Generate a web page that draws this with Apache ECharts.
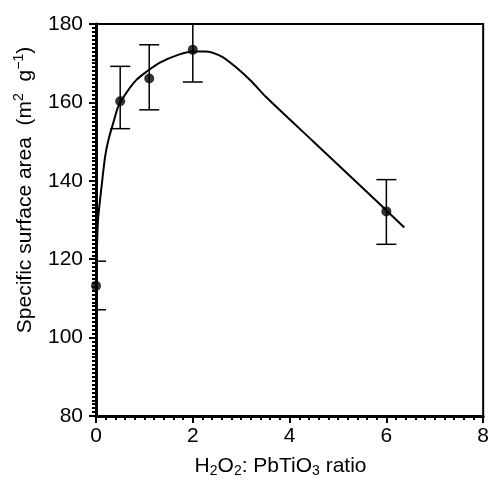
<!DOCTYPE html>
<html>
<head>
<meta charset="utf-8">
<script src="https://cdn.jsdelivr.net/npm/echarts@6/dist/echarts.min.js"></script>
<style>
  html, body { margin: 0; padding: 0; background: #fff; }
  #mChart { width: 492px; height: 483px; }
</style>
</head>
<body>
<div id="mChart"></div>
<script>
  // fitted curve
  var curveX = [0, 0.04, 0.11, 0.19, 0.26, 0.36, 0.46, 0.63, 0.84, 1.04, 1.31, 1.71, 2.02, 2.26, 2.6, 2.87, 3.21, 3.52, 4.5, 5.5, 6.37];
  var curveY = [113.4, 129.6, 138, 146.3, 150.6, 154.9, 159, 162.5, 165.8, 167.8, 170.1, 172.2, 173, 173, 171.7, 169.2, 165.4, 161.3, 149.9, 138.3, 128.1];

  // measured points with error bars
  var pointX = [0, 0.5, 1.1, 2, 6];
  var pointY = [113.2, 160.3, 166.1, 173.4, 132.2];
  var errLow = [107.1, 153.3, 158.1, 165.2, 123.8];
  var errHigh = [119.5, 169.2, 174.7, 180, 140.3];

  var xTicks = [0, 2, 4, 6, 8];
  var yTicks = [80, 100, 120, 140, 160, 180];

  var font = 'Liberation Sans';

  var myChart = echarts.init(document.getElementById('mChart'));

  var curveData = curveX.map(function (x, i) { return [x, curveY[i]]; });
  var pointData = pointX.map(function (x, i) { return [x, pointY[i]]; });
  var errData = pointX.map(function (x, i) { return [x, errLow[i], errHigh[i]]; });

  myChart.setOption({
    animation: false,
    grid: {
      left: 96, right: 4, top: 24, bottom: 64,
      show: true, borderColor: '#000', borderWidth: 2
    },
    xAxis: {
      type: 'value',
      min: xTicks[0], max: xTicks[xTicks.length - 1], interval: 2,
      axisLine: { lineStyle: { color: '#000', width: 3 } },
      axisTick: { length: 7, lineStyle: { color: '#000', width: 2 } },
      minorTick: { show: true, splitNumber: 10, length: 4, lineStyle: { color: '#000', width: 2 } },
      splitLine: { show: false },
      axisLabel: { color: '#000', fontSize: 21, fontFamily: font, margin: 10, showMaxLabel: true },
      name: '{t|H}{sub|2}{t|O}{sub|2}{t|: PbTiO}{sub|3}{t| ratio}',
      nameLocation: 'middle',
      nameGap: 38,
      nameTextStyle: {
        padding: [0, 18, 0, 0],
        rich: {
          t: { fontSize: 21, fontFamily: font, color: '#000', lineHeight: 24 },
          sub: { fontSize: 14, fontFamily: font, color: '#000', lineHeight: 14, verticalAlign: 'bottom' }
        }
      }
    },
    yAxis: {
      type: 'value',
      min: yTicks[0], max: yTicks[yTicks.length - 1], interval: 20,
      axisLine: { show: true, lineStyle: { color: '#000', width: 3 } },
      axisTick: { show: true, length: 7, lineStyle: { color: '#000', width: 2 } },
      minorTick: { show: true, splitNumber: 20, length: 4, lineStyle: { color: '#000', width: 2 } },
      splitLine: { show: false },
      axisLabel: { color: '#000', fontSize: 21, fontFamily: font, margin: 13 },
      name: '{t|Specific surface area  (m}{sup|2}{t|  g}{sup|\u22121}{t|)}',
      nameLocation: 'middle',
      nameRotate: 90,
      nameGap: 58,
      nameTextStyle: {
        padding: [0, 0, 0, 60],
        rich: {
          t: { fontSize: 21, fontFamily: font, color: '#000', lineHeight: 26 },
          sup: { fontSize: 14, fontFamily: font, color: '#000', lineHeight: 14, verticalAlign: 'top' }
        }
      }
    },
    series: [
      {
        type: 'line',
        data: curveData,
        showSymbol: false,
        smooth: 0.25,
        lineStyle: { color: '#000', width: 2 },
        z: 2
      },
      {
        type: 'custom',
        data: errData,
        clip: true,
        renderItem: function (params, api) {
          var x = api.value(0);
          var lo = api.coord([x, api.value(1)]);
          var hi = api.coord([x, api.value(2)]);
          var half = 10;
          var style = { stroke: '#000', lineWidth: 1.5 };
          return {
            type: 'group',
            children: [
              { type: 'line', shape: { x1: lo[0], y1: lo[1], x2: hi[0], y2: hi[1] }, style: style },
              { type: 'line', shape: { x1: lo[0] - half, y1: lo[1], x2: lo[0] + half, y2: lo[1] }, style: style },
              { type: 'line', shape: { x1: hi[0] - half, y1: hi[1], x2: hi[0] + half, y2: hi[1] }, style: style }
            ]
          };
        },
        z: 3
      },
      {
        type: 'scatter',
        data: pointData,
        symbol: 'circle',
        symbolSize: 10,
        itemStyle: { color: '#000' },
        z: 4
      }
    ]
  });
</script>
</body>
</html>
